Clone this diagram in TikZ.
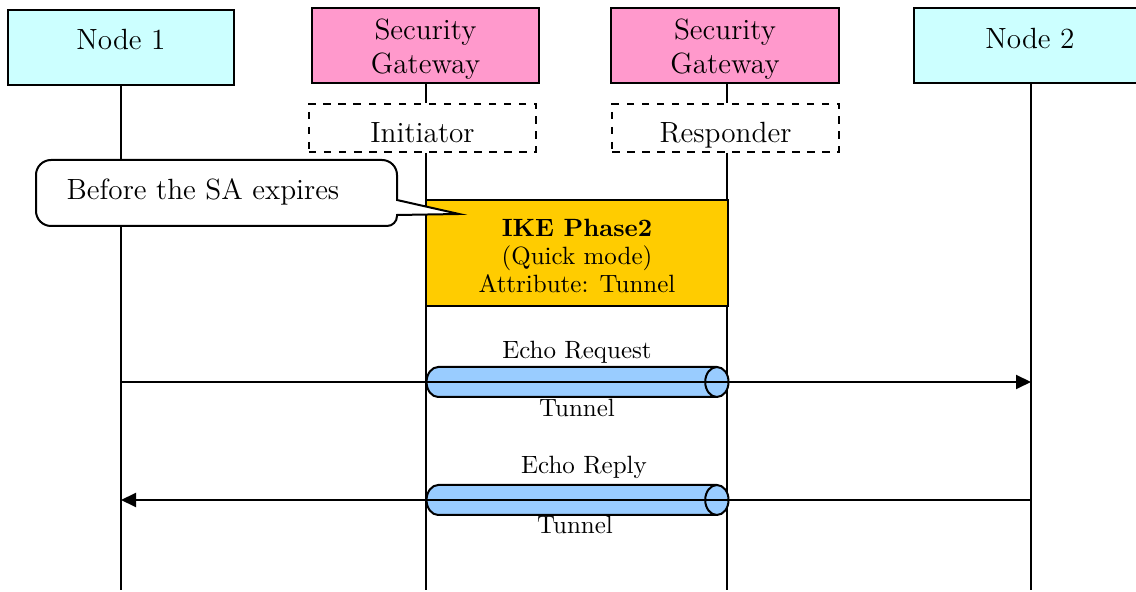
\documentclass[tikz,border=0pt]{standalone}
\usetikzlibrary{arrows.meta,shapes.geometric,positioning}
\definecolor{hostcyan}{HTML}{CCFFFF}
\definecolor{gwpink}{HTML}{FF99CC}
\definecolor{ikegold}{HTML}{FFCC00}
\definecolor{tubeblue}{HTML}{99CCFF}

\begin{document}
\begin{tikzpicture}[x=0.4pt,y=-0.4pt,line width=0.8pt,
  big/.style={font=\fontsize{11.7}{13.6}\selectfont},
  small/.style={font=\fontsize{10}{11.2}\selectfont},
  host/.style={draw,fill=hostcyan,minimum width=90.4pt,minimum height=30pt,big,text depth=6.4pt},
  gw/.style={draw,fill=gwpink,minimum width=90.8pt,minimum height=30pt,big,align=center,inner sep=1pt},
  role/.style={draw,dashed,fill=white,minimum width=90.8pt,minimum height=19.2pt,big,text height=12pt,text depth=0pt},
  tube/.style={cylinder,draw,shape border rotate=0,aspect=1.4,minimum height=120.8pt,minimum width=12pt,
    cylinder uses custom fill,cylinder body fill=tubeblue,cylinder end fill=tubeblue},
  msg/.style={-{Triangle[length=6pt,width=5.6pt]}}]
  \useasboundingbox (0,0) rectangle (1136,592);

  \node[host] (n1) at (121,47.5) {Node 1};
  \node[gw] (sg1) at (425.5,45.5) {\rule{0pt}{11.2pt}Security\\Gateway};
  \node[gw] (sg2) at (725,45.5) {\rule{0pt}{11.2pt}Security\\Gateway};
  \node[host,minimum width=93pt] (n2) at (1030,46) {Node 2};
  \node[role] (ini) at (422.5,128) {Initiator};
  \node[role] (res) at (725.5,128) {Responder};

  \coordinate (e1) at (121,590);
  \coordinate (e2) at (426,590);
  \coordinate (e3) at (727,590);
  \coordinate (e4) at (1031,590);

  % lifelines
  \draw (e1 |- n1.south) -- (e1);
  \draw (e2 |- sg1.south) -- (e2 |- ini.north);
  \draw (e2 |- ini.south) -- (e2);
  \draw (e3 |- sg2.south) -- (e3 |- res.north);
  \draw (e3 |- res.south) -- (e3);
  \draw (e4 |- n2.south) -- (e4);

  \node[draw,fill=ikegold,minimum width=120.8pt,minimum height=42.4pt,small,align=center] (ike) at (577,253)
    {\rule{0pt}{9.7pt}\textbf{IKE Phase2}\\(Quick mode)\\Attribute: Tunnel};

  % callout
  \draw[fill=white] (36,193) [rounded corners=6pt] -- (36,160) -- (397,160) [sharp corners] -- (397,200)
    -- (459,214) -- (397,215) [rounded corners=4pt] -- (397,226) [rounded corners=6pt] -- (36,226) -- cycle;
  \node[big] (sa) at (203,192) {Before the SA expires};

  \node[tube] (tub1) at (566,382) {};
  \node[tube] (tub2) at (566,500) {};
  \draw[msg] (e1 |- tub1) -- (e4 |- tub1);
  \draw[msg] (e4 |- tub2) -- (e1 |- tub2);

  \node[small] (req) at (577,352) {Echo Request};
  \node[small] (tn1) at (577,408) {Tunnel};
  \node[small] (rep) at (584,467) {Echo Reply};
  \node[small] (tn2) at (575,525) {Tunnel};
\end{tikzpicture}
\end{document}
